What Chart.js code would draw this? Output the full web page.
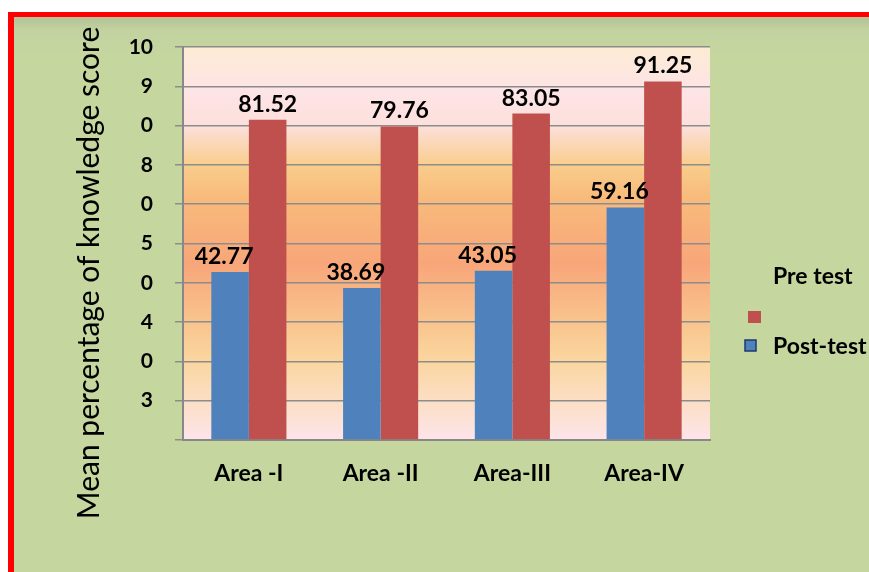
<!DOCTYPE html>
<html>
<head>
<meta charset="utf-8">
<script src="https://cdn.jsdelivr.net/npm/chart.js@4/dist/chart.umd.min.js"></script>
<style>
  body { margin: 0; background: #fff; }
  #wrap { position: relative; width: 869px; height: 572px; overflow: hidden; }
  #frame {
    position: absolute; left: 8px; top: 12px; width: 861px; height: 560px;
    border-top: 5px solid #ff0000; border-left: 6px solid #ff0000;
    background: linear-gradient(to bottom, #b3c298 0px, #c3d3a0 14px, #c5d69f 40px, #c5d69f 100%);
  }
  #chart { position: absolute; left: 0; top: 0; }
</style>
</head>
<body>
<div id="wrap">
  <div id="frame"></div>
  <canvas id="chart" width="869" height="572"></canvas>
</div>
<script>
// ================= DATA =================
const areas = ["Area -I", "Area -II", "Area-III", "Area-IV"];
const postTest = [42.77, 38.69, 43.05, 59.16];
const preTest = [81.52, 79.76, 83.05, 91.25];
// y tick labels as printed, top (100) to bottom (0)
const yTickLabels = ["10", "9", "0", "8", "0", "5", "0", "4", "0", "3", ""];
const yTitle = "Mean percentage of knowledge score";

const blue = "#4f81bd";
const red = "#c0504d";

// ================= PLUGINS =================
const plotBackground = {
  id: "plotBackground",
  beforeDraw(chart) {
    const { ctx, chartArea: a } = chart;
    const g = ctx.createLinearGradient(0, a.top, 0, a.bottom);
    g.addColorStop(0, "#fdebd4");
    g.addColorStop(0.11, "#fde4e6");
    g.addColorStop(0.2, "#fce0dc");
    g.addColorStop(0.3, "#f9cd8c");
    g.addColorStop(0.38, "#f8bb7c");
    g.addColorStop(0.55, "#f8a679");
    g.addColorStop(0.7, "#f9c48d");
    g.addColorStop(0.8, "#fbd6a0");
    g.addColorStop(0.92, "#fce0cc");
    g.addColorStop(1, "#fde4ea");
    ctx.save();
    ctx.fillStyle = g;
    ctx.fillRect(a.left, a.top, a.right - a.left, a.bottom - a.top);
    ctx.restore();
  }
};

const valueLabels = {
  id: "valueLabels",
  afterDatasetsDraw(chart) {
    const ctx = chart.ctx;
    ctx.save();
    ctx.font = "bold 23px Lato";
    ctx.fillStyle = "#000";
    ctx.textAlign = "center";
    ctx.textBaseline = "bottom";
    chart.data.datasets.forEach((ds, i) => {
      chart.getDatasetMeta(i).data.forEach((bar, j) => {
        ctx.fillText(ds.data[j].toFixed(2), bar.x - (i === 0 ? 6 : 0), bar.y - 4);
      });
    });
    ctx.restore();
  }
};

const sideText = {
  id: "sideText",
  afterDraw(chart) {
    const ctx = chart.ctx;
    const ds = chart.data.datasets;
    ctx.save();
    // axis title
    ctx.translate(89, 273);
    ctx.rotate(-Math.PI / 2);
    ctx.font = "30px Lato";
    ctx.fillStyle = "#000";
    ctx.textAlign = "center";
    ctx.textBaseline = "middle";
    ctx.fillText(yTitle, 0, 0);
    ctx.restore();

    // legend (Pre test first, then Post-test)
    ctx.save();
    ctx.font = "bold 23px Lato";
    ctx.fillStyle = "#000";
    ctx.textAlign = "left";
    ctx.textBaseline = "middle";
    ctx.fillText(ds[1].label, 773, 277);
    ctx.fillStyle = ds[1].backgroundColor;
    ctx.fillRect(748, 311, 13, 12);
    ctx.fillStyle = ds[0].backgroundColor;
    ctx.fillRect(745, 340, 11, 11);
    ctx.strokeStyle = "#1f3a6b";
    ctx.lineWidth = 1.5;
    ctx.strokeRect(745, 340, 11, 11);
    ctx.fillStyle = "#000";
    ctx.fillText(ds[0].label, 773, 347);
    ctx.restore();
  }
};

// ================= CHART =================
new Chart(document.getElementById("chart"), {
  type: "bar",
  data: {
    labels: areas,
    datasets: [
      { label: "Post-test", data: postTest, backgroundColor: blue },
      { label: "Pre test", data: preTest, backgroundColor: red }
    ]
  },
  options: {
    responsive: false,
    devicePixelRatio: 1,
    animation: false,
    categoryPercentage: 0.57,
    barPercentage: 1.0,
    layout: { padding: { top: 47, right: 159, bottom: 0, left: 0 } },
    plugins: {
      legend: { display: false },
      tooltip: { enabled: false }
    },
    scales: {
      x: {
        afterFit(scale) { scale.height = 132; },
        grid: { display: false },
        border: { display: true, color: "#888", width: 2 },
        ticks: { padding: 12, color: "#000", font: { family: "Lato", size: 23, weight: "bold" } }
      },
      y: {
        min: 0,
        max: 100,
        afterFit(scale) { scale.width = 183; },
        ticks: {
          stepSize: 10,
          padding: 22,
          color: "#000",
          font: { family: "Lato", size: 21, weight: "bold" },
          callback: (v) => yTickLabels[Math.round((100 - v) / 10)]
        },
        grid: { color: "#8c8c8c", lineWidth: 1.5, tickLength: 8 },
        border: { color: "#888", width: 2 }
      }
    }
  },
  plugins: [plotBackground, valueLabels, sideText]
});
</script>
</body>
</html>
